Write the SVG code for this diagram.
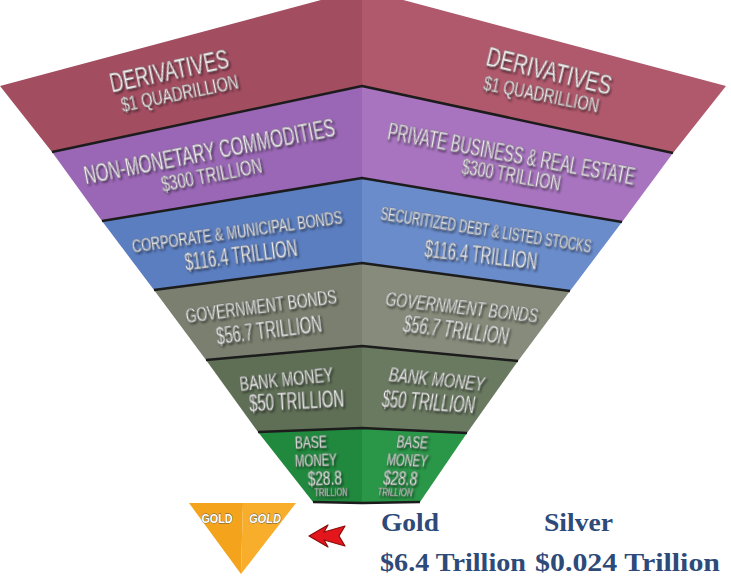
<svg xmlns="http://www.w3.org/2000/svg" width="731" height="580" viewBox="0 0 731 580">
<defs>
<filter id="sh" x="-20%" y="-40%" width="140%" height="180%">
<feDropShadow dx="1.5" dy="2" stdDeviation="1" flood-color="#000" flood-opacity="0.55"/>
</filter>
<style>
.t{font-family:"Liberation Sans",Arial,sans-serif;fill:#f3f3f3;stroke:#6a6a6a;stroke-width:0.4;text-anchor:middle;filter:url(#sh)}
.i{font-style:italic}
.edge{fill:none;stroke:#1c1c1c;stroke-width:2.5;stroke-linejoin:round}
.gt{font-family:"Liberation Sans",Arial,sans-serif;font-weight:bold;fill:#fff;stroke:#555;stroke-width:0.8;text-anchor:middle;paint-order:stroke}
.v{font-family:"Liberation Serif","DejaVu Serif",serif;font-weight:bold;fill:#2d4a79}
</style>
</defs>
<rect width="731" height="580" fill="#fff"/>

<g id="derivatives">
<polygon points="0,86 362,-11 362,86 52,152" fill="#a34d61"/>
<polygon points="362,-11 726,86 673,153 362,86" fill="#b0596c"/>
<text class="t" font-size="28" textLength="121" lengthAdjust="spacingAndGlyphs" transform="translate(171,80) rotate(-12)">DERIVATIVES</text>
<text class="t" font-size="21" textLength="119" lengthAdjust="spacingAndGlyphs" transform="translate(181,100) rotate(-11.5)">$1 QUADRILLION</text>
<text class="t" font-size="28" textLength="128" lengthAdjust="spacingAndGlyphs" transform="translate(547,80) rotate(13.5)">DERIVATIVES</text>
<text class="t" font-size="21" textLength="117" lengthAdjust="spacingAndGlyphs" transform="translate(540,101) rotate(11.3)">$1 QUADRILLION</text>
</g>

<g id="commodities">
<polygon points="52,152 362,86 362,178 102,221" fill="#9a67b6"/>
<polygon points="362,86 673,153 622,222 362,178" fill="#a874c0"/>
<text class="t" font-size="25" textLength="255" lengthAdjust="spacingAndGlyphs" transform="translate(211,160) rotate(-11)">NON-MONETARY COMMODITIES</text>
<text class="t" font-size="22" textLength="102" lengthAdjust="spacingAndGlyphs" transform="translate(213,182) rotate(-11)">$300 TRILLION</text>
<text class="t" font-size="23" textLength="251" lengthAdjust="spacingAndGlyphs" transform="translate(510,162) rotate(10.5)">PRIVATE BUSINESS &amp; REAL ESTATE</text>
<text class="t" font-size="22" textLength="100" lengthAdjust="spacingAndGlyphs" transform="translate(510,182) rotate(10)">$300 TRILLION</text>
</g>

<g id="bonds">
<polygon points="102,221 362,178 362,263 154,290" fill="#5b7ec1"/>
<polygon points="362,178 622,222 570,291 362,263" fill="#6a8ccb"/>
<text class="t" font-size="19" textLength="212" lengthAdjust="spacingAndGlyphs" transform="translate(238,238) rotate(-8)">CORPORATE &amp; MUNICIPAL BONDS</text>
<text class="t" font-size="23" textLength="113" lengthAdjust="spacingAndGlyphs" transform="translate(242,263) rotate(-7.5)">$116.4 TRILLION</text>
<text class="t" font-size="18" textLength="213" lengthAdjust="spacingAndGlyphs" transform="translate(485,236) rotate(9)">SECURITIZED DEBT &amp; LISTED STOCKS</text>
<text class="t" font-size="23" textLength="113" lengthAdjust="spacingAndGlyphs" transform="translate(480,263) rotate(6.6)">$116.4 TRILLION</text>
</g>

<g id="government">
<polygon points="154,290 362,263 362,346 206,360" fill="#7a7f6f"/>
<polygon points="362,263 570,291 518,361 362,346" fill="#868b7b"/>
<text class="t" font-size="21" textLength="152" lengthAdjust="spacingAndGlyphs" transform="translate(262,313) rotate(-7.5)">GOVERNMENT BONDS</text>
<text class="t" font-size="23" textLength="106" lengthAdjust="spacingAndGlyphs" transform="translate(270,338) rotate(-7)">$56.7 TRILLION</text>
<text class="t i" font-size="21" textLength="153" lengthAdjust="spacingAndGlyphs" transform="translate(461,314) rotate(6.4)">GOVERNMENT BONDS</text>
<text class="t i" font-size="23" textLength="106" lengthAdjust="spacingAndGlyphs" transform="translate(455,338) rotate(7)">$56.7 TRILLION</text>
</g>

<g id="bank-money">
<polygon points="206,360 362,346 362,428 258,432" fill="#5f6f56"/>
<polygon points="362,346 518,361 467,433 362,428" fill="#6a7a61"/>
<text class="t" font-size="21" textLength="94" lengthAdjust="spacingAndGlyphs" transform="translate(287,386) rotate(-6)">BANK MONEY</text>
<text class="t" font-size="24" textLength="95" lengthAdjust="spacingAndGlyphs" transform="translate(297,409) rotate(-3)">$50 TRILLION</text>
<text class="t i" font-size="21" textLength="96" lengthAdjust="spacingAndGlyphs" transform="translate(436,386) rotate(6)">BANK MONEY</text>
<text class="t i" font-size="24" textLength="93" lengthAdjust="spacingAndGlyphs" transform="translate(428,410) rotate(4)">$50 TRILLION</text>
</g>

<g id="base-money">
<polygon points="258,432 362,428 362,503 313,502" fill="#21893e"/>
<polygon points="362,428 467,433 420,502 362,503" fill="#2a9648"/>
<text class="t" font-size="17" textLength="32" lengthAdjust="spacingAndGlyphs" transform="translate(311,448) rotate(-2)">BASE</text>
<text class="t" font-size="17" textLength="42" lengthAdjust="spacingAndGlyphs" transform="translate(316,466) rotate(-2)">MONEY</text>
<text class="t" font-size="20" textLength="34" lengthAdjust="spacingAndGlyphs" transform="translate(325,485) rotate(-2)">$28.8</text>
<text class="t" font-size="10" textLength="33" lengthAdjust="spacingAndGlyphs" transform="translate(331,496) rotate(-1)">TRILLION</text>
<text class="t i" font-size="17" textLength="31" lengthAdjust="spacingAndGlyphs" transform="translate(412,448) rotate(2)">BASE</text>
<text class="t i" font-size="17" textLength="41" lengthAdjust="spacingAndGlyphs" transform="translate(407,466) rotate(2)">MONEY</text>
<text class="t i" font-size="20" textLength="34" lengthAdjust="spacingAndGlyphs" transform="translate(400,485) rotate(2)">$28.8</text>
<text class="t i" font-size="10" textLength="35" lengthAdjust="spacingAndGlyphs" transform="translate(395,496) rotate(1)">TRILLION</text>
</g>

<g id="band-edges">
<polyline class="edge" points="52,152 362,86 673,153"/>
<polyline class="edge" points="102,221 362,178 622,222"/>
<polyline class="edge" points="154,290 362,263 570,291"/>
<polyline class="edge" points="206,360 362,346 518,361"/>
<polyline class="edge" points="258,432 362,428 467,433"/>
<polyline class="edge" points="313,502 362,503 420,502" stroke-width="2"/>
</g>

<g id="gold">
<polygon points="189,503 243,503 241,574" fill="#f4a31c"/>
<polygon points="243,503 296,503 241,574" fill="#f8ad2b"/>
<text class="gt" font-size="13" textLength="31" lengthAdjust="spacingAndGlyphs" x="217" y="523">GOLD</text>
<text class="gt i" font-size="13" textLength="32" lengthAdjust="spacingAndGlyphs" x="265" y="523">GOLD</text>
</g>

<g id="connectors">
<polygon points="309,536 328,525 324,532 345,526 339,536 345,546 324,540 328,547" fill="#e3161b" stroke="#8a0b0b" stroke-width="1.2" stroke-linejoin="round"/>
</g>

<g id="metals">
<text class="v" font-size="26" textLength="58" lengthAdjust="spacingAndGlyphs" x="381" y="531">Gold</text>
<text class="v" font-size="26" textLength="69" lengthAdjust="spacingAndGlyphs" x="544" y="531">Silver</text>
<text class="v" font-size="26" textLength="146" lengthAdjust="spacingAndGlyphs" x="380" y="571">$6.4 Trillion</text>
<text class="v" font-size="26" textLength="185" lengthAdjust="spacingAndGlyphs" x="535" y="571">$0.024 Trillion</text>
</g>
</svg>
